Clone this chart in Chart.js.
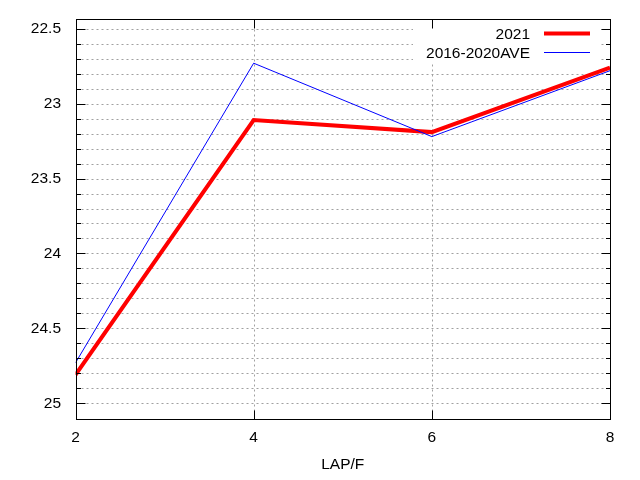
<!DOCTYPE html>
<html><head><meta charset="utf-8">
<script src="https://cdn.jsdelivr.net/npm/chart.js@4"></script>
<style>html,body{margin:0;padding:0;background:#fff;}#wrap{width:640px;height:480px;}</style>
</head><body><div id="wrap"><canvas id="c" width="640" height="480"></canvas></div>
<script>
const laps = [2, 4, 6, 8];
const series2021 = [24.81, 23.11, 23.19, 22.76];
const seriesAve = [24.73, 22.73, 23.22, 22.78];
const seriesLabels = ['2021', '2016-2020AVE'];
const xTickValues = [2, 4, 6, 8];
const yTickLabels = ['22.5', '23', '23.5', '24', '24.5', '25'];
const yMinorStep = 0.1;
const xTitle = 'LAP/F';

const FONT = 'Liberation Sans, Arial, sans-serif';
const FS = 15.5;

const yMajorVals = yTickLabels.map(parseFloat);
function buildYTicks() {
  const out = [];
  const a = yMajorVals[0], b = yMajorVals[yMajorVals.length - 1];
  const n = Math.round((b - a) / yMinorStep);
  for (let i = 0; i <= n; i++) out.push({ value: +(a + i * yMinorStep).toFixed(4) });
  return out;
}
function isMajor(v) { return yMajorVals.some(m => Math.abs(m - v) < 1e-6); }

const framePlugin = {
  id: 'frame',
  beforeDatasetsDraw(chart) {
    const { ctx, chartArea: ca, scales } = chart;
    const L = Math.round(ca.left) + 0.5, R = Math.round(ca.right) + 0.5;
    const T = Math.round(ca.top) + 0.5, B = Math.round(ca.bottom) + 0.5;
    ctx.save();
    ctx.strokeStyle = '#a0a0a0';
    ctx.lineWidth = 1;
    ctx.setLineDash([2, 3]);
    scales.y.ticks.forEach(t => {
      const y = Math.round(scales.y.getPixelForValue(t.value)) + 0.5;
      ctx.beginPath(); ctx.moveTo(L, y); ctx.lineTo(R, y); ctx.stroke();
    });
    scales.x.ticks.forEach(t => {
      if (t.value === laps[0] || t.value === laps[laps.length - 1]) return;
      const x = Math.round(scales.x.getPixelForValue(t.value)) + 0.5;
      ctx.beginPath(); ctx.moveTo(x, T); ctx.lineTo(x, B); ctx.stroke();
    });
    ctx.restore();
  },
  afterDatasetsDraw(chart) {
    const { ctx, chartArea: ca, scales } = chart;
    const L = Math.round(ca.left) + 0.5, R = Math.round(ca.right) + 0.5;
    const T = Math.round(ca.top) + 0.5, B = Math.round(ca.bottom) + 0.5;
    ctx.save();
    // legend box
    ctx.fillStyle = '#fff';
    ctx.fillRect(413, 21, 188, 43);
    ctx.font = FS + 'px ' + FONT;
    ctx.textAlign = 'right';
    ctx.textBaseline = 'middle';
    chart.data.datasets.forEach((ds, i) => {
      const y = 33.5 + i * 19;
      ctx.fillStyle = '#000';
      ctx.fillText(ds.label, 530, y + 1);
      ctx.strokeStyle = ds.borderColor;
      ctx.lineWidth = ds.borderWidth;
      ctx.beginPath(); ctx.moveTo(544, y); ctx.lineTo(590, y); ctx.stroke();
    });
    // ticks
    ctx.strokeStyle = '#000';
    ctx.lineWidth = 1;
    scales.y.ticks.forEach(t => {
      const y = Math.round(scales.y.getPixelForValue(t.value)) + 0.5;
      const len = isMajor(t.value) ? 9 : 4.5;
      ctx.beginPath(); ctx.moveTo(L, y); ctx.lineTo(L + len, y); ctx.stroke();
      ctx.beginPath(); ctx.moveTo(R, y); ctx.lineTo(R - len, y); ctx.stroke();
    });
    scales.x.ticks.forEach(t => {
      const x = Math.round(scales.x.getPixelForValue(t.value)) + 0.5;
      ctx.beginPath(); ctx.moveTo(x, B); ctx.lineTo(x, B - 9); ctx.stroke();
      ctx.beginPath(); ctx.moveTo(x, T); ctx.lineTo(x, T + 9); ctx.stroke();
    });
    ctx.strokeRect(L, T, R - L, B - T);
    ctx.restore();
  }
};

new Chart(document.getElementById('c'), {
  type: 'line',
  data: {
    datasets: [
      { label: seriesLabels[0], data: laps.map((x, i) => ({ x, y: series2021[i] })),
        borderColor: '#ff0000', borderWidth: 4, pointRadius: 0, tension: 0, order: 1, fill: false },
      { label: seriesLabels[1], data: laps.map((x, i) => ({ x, y: seriesAve[i] })),
        borderColor: '#0000ff', borderWidth: 1, pointRadius: 0, tension: 0, order: 0, fill: false }
    ]
  },
  options: {
    responsive: false,
    animation: false,
    devicePixelRatio: 1,
    layout: { padding: { left: 0, top: 19, right: 30, bottom: 0 } },
    plugins: { legend: { display: false }, tooltip: { enabled: false } },
    scales: {
      x: {
        type: 'linear', min: laps[0], max: laps[laps.length - 1],
        afterBuildTicks: s => { s.ticks = xTickValues.map(v => ({ value: v })); },
        afterFit: s => { s.height = 61; s.paddingLeft = 0; s.paddingRight = 0; },
        grid: { display: false, drawTicks: false },
        border: { display: false },
        ticks: { color: '#000', font: { family: FONT, size: FS }, padding: 9, maxRotation: 0,
                 callback: v => String(v) },
        title: { display: true, text: xTitle, color: '#000', font: { family: FONT, size: FS },
                 padding: { top: 4, bottom: 6 } }
      },
      y: {
        type: 'linear', reverse: true, min: 22.435, max: 25.105,
        afterBuildTicks: s => { s.ticks = buildYTicks(); },
        afterFit: s => { s.width = 75.5; s.paddingTop = 0; s.paddingBottom = 0; },
        grid: { display: false, drawTicks: false },
        border: { display: false },
        ticks: { color: '#000', font: { family: FONT, size: FS }, padding: 14.5, autoSkip: false,
                 callback: v => { const i = yMajorVals.findIndex(m => Math.abs(m - v) < 1e-6); return i >= 0 ? yTickLabels[i] : ''; } }
      }
    }
  },
  plugins: [framePlugin]
});
</script>
</body></html>
